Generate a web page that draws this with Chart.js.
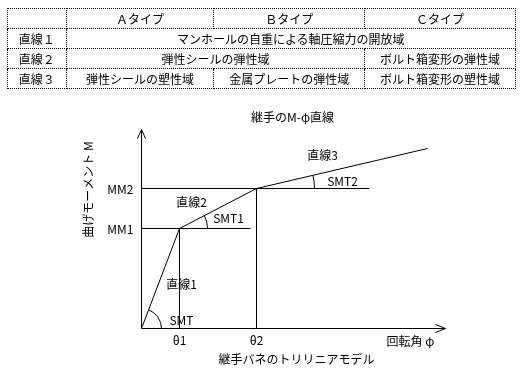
<!DOCTYPE html>
<html>
<head>
<meta charset="utf-8">
<script src="https://cdn.jsdelivr.net/npm/chart.js@4.4.0/dist/chart.umd.min.js"></script>
<style>
  html, body { margin: 0; padding: 0; background: #fff; }
  #wrap { position: relative; width: 530px; height: 376px; overflow: hidden; }
  #chart { position: absolute; left: 0; top: 0; }
  #tbl {
    position: absolute; left: 7px; top: 8px; width: 509px;
    border-collapse: collapse; border: 1px dotted #000;
    font: 12px "Noto Sans CJK JP", sans-serif; color: #000;
  }
  #tbl td { border: 1px dotted #000; height: 19px; padding: 0; text-align: center; line-height: 19px; }
</style>
</head>
<body>
<div id="wrap">
  <canvas id="chart" width="530" height="376"></canvas>
  <table id="tbl"></table>
</div>
<script>
// table text
const typeNames = ['Ａタイプ', 'Ｂタイプ', 'Ｃタイプ'];
const rowNames = ['直線１', '直線２', '直線３'];
// each row: [text, colspan]
const rowCells = [
  [['マンホールの自重による軸圧縮力の開放域', 3]],
  [['弾性シールの弾性域', 2], ['ボルト箱変形の弾性域', 1]],
  [['弾性シールの塑性域', 1], ['金属プレートの弾性域', 1], ['ボルト箱変形の塑性域', 1]]
];

// trilinear M-phi model (arbitrary units)
const curvePhi = [0, 38, 115, 286];
const curveM = [0, 100, 140, 180];
const thetaVals = [38, 115];
const thetaNames = ['θ1', 'θ2'];
const mmVals = [100, 140];
const mmNames = ['MM1', 'MM2'];
const guideEnds = [109, 228];   // how far the MM1 / MM2 guides run
const segNames = ['直線1', '直線2', '直線3'];
const angleNames = ['SMT', 'SMT1', 'SMT2'];
const phiMax = 304;
const mMax = 199;

// build table
const tbl = document.getElementById('tbl');
const colWidths = [58, 148, 151, 151];
let tr = tbl.insertRow();
let c = tr.insertCell(); c.style.width = colWidths[0] + 'px';
typeNames.forEach((t, i) => { c = tr.insertCell(); c.textContent = t; c.style.width = colWidths[i + 1] + 'px'; });
rowNames.forEach((r, i) => {
  tr = tbl.insertRow();
  tr.insertCell().textContent = r;
  rowCells[i].forEach(cell => {
    const td = tr.insertCell();
    td.textContent = cell[0];
    td.colSpan = cell[1];
  });
});

const ink = '#000';
const font = '12px "Noto Sans CJK JP", sans-serif';

function seg(x0, y0, x1, y1) {
  return { data: [{ x: x0, y: y0 }, { x: x1, y: y1 }], borderColor: ink, borderWidth: 1, pointRadius: 0, fill: false };
}

const datasets = [];
datasets.push({
  data: curvePhi.map((p, i) => ({ x: p, y: curveM[i] })),
  borderColor: ink, borderWidth: 1, pointRadius: 0, fill: false, tension: 0
});
mmVals.forEach((m, i) => datasets.push(seg(0, m, guideEnds[i], m)));
thetaVals.forEach((t, i) => datasets.push(seg(t, 0, t, mmVals[i])));

// axes, arcs and the text
const drawing = {
  id: 'drawing',
  afterDatasetsDraw(chart) {
    const ctx = chart.ctx;
    const xs = chart.scales.x, ys = chart.scales.y;
    const X = v => xs.getPixelForValue(v), Y = v => ys.getPixelForValue(v);
    ctx.save();
    ctx.strokeStyle = ink; ctx.fillStyle = ink; ctx.lineWidth = 1;

    const ox = X(0), oy = Y(0), xe = X(phiMax), yt = Y(mMax);
    ctx.beginPath();
    ctx.moveTo(ox, oy); ctx.lineTo(xe, oy);
    ctx.moveTo(ox, oy); ctx.lineTo(ox, yt);
    // arrow heads
    ctx.moveTo(xe - 10, oy - 4); ctx.lineTo(xe, oy); ctx.lineTo(xe - 10, oy + 4);
    ctx.moveTo(ox - 4, yt + 9); ctx.lineTo(ox, yt); ctx.lineTo(ox + 4, yt + 9);
    ctx.stroke();

    // angle arcs at each break point
    const radii = [20, 28, 58];
    for (let i = 0; i < 3; i++) {
      const cx = X(curvePhi[i]), cy = Y(curveM[i]);
      const nx = X(curvePhi[i + 1]), ny = Y(curveM[i + 1]);
      const a = Math.atan2(ny - cy, nx - cx);
      ctx.beginPath();
      ctx.arc(cx, cy, radii[i], a, 0);
      ctx.stroke();
    }

    ctx.font = font;
    ctx.textBaseline = 'middle';
    ctx.textAlign = 'center';
    thetaVals.forEach((t, i) => ctx.fillText(thetaNames[i], X(t), oy + 12));
    ctx.textAlign = 'right';
    mmVals.forEach((m, i) => ctx.fillText(mmNames[i], ox - 8, Y(m) + 1));

    ctx.textAlign = 'center';
    ctx.fillText(segNames[0], X(40), Y(44));
    ctx.fillText(segNames[1], X(50), Y(126));
    ctx.fillText(segNames[2], X(181), Y(173));
    ctx.fillText(angleNames[0], X(40), Y(8));
    ctx.fillText(angleNames[1], X(87), Y(110));
    ctx.fillText(angleNames[2], X(201), Y(147));

    ctx.fillText('継手のM-φ直線', X(151), yt - 12);
    ctx.fillText('回転角 φ', X(269), oy + 13);
    ctx.fillText('継手バネのトリリニアモデル', X(155), oy + 31);

    ctx.translate(ox - 53, Y(139));
    ctx.rotate(-Math.PI / 2);
    ctx.fillText('曲げモーメント M', 0, 0);
    ctx.restore();
  }
};

new Chart(document.getElementById('chart'), {
  type: 'line',
  data: { datasets: datasets },
  options: {
    responsive: false,
    animation: false,
    layout: { padding: { left: 141.5, right: 84.5, top: 129.5, bottom: 47.5 } },
    plugins: { legend: { display: false }, tooltip: { enabled: false }, title: { display: false } },
    scales: {
      x: { type: 'linear', min: 0, max: phiMax, display: false },
      y: { type: 'linear', min: 0, max: mMax, display: false }
    }
  },
  plugins: [drawing]
});
</script>
</body>
</html>
